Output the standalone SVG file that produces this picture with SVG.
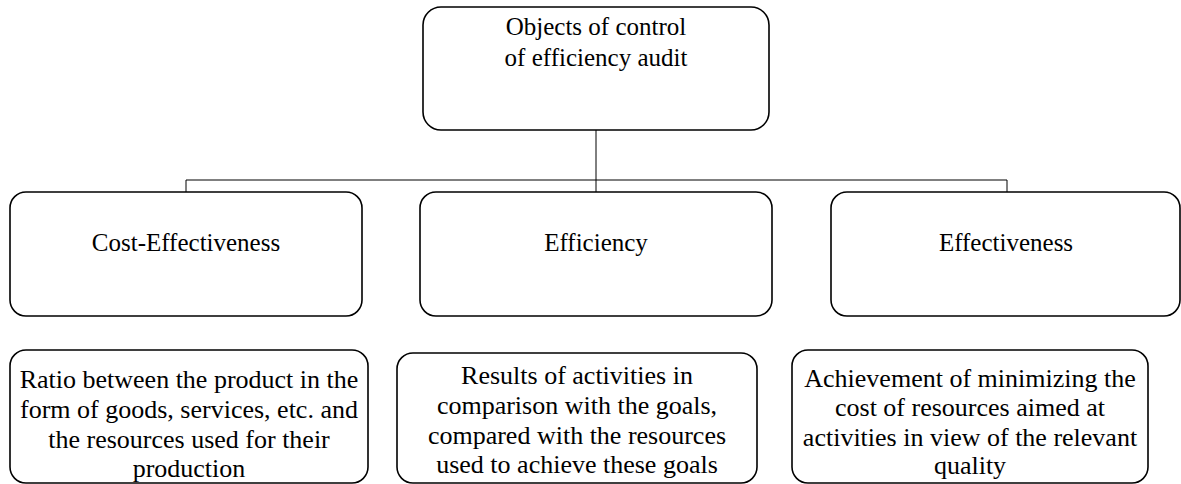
<svg xmlns="http://www.w3.org/2000/svg" width="1181" height="484" viewBox="0 0 1181 484" font-family="Liberation Serif, Times New Roman, Times, DejaVu Serif, serif">
<style>
.box{fill:#fff;stroke:#000;stroke-width:1.6}
.con{fill:none;stroke:#000;stroke-width:1}
.t,.b{fill:#000;text-anchor:middle}
.t{font-size:25px}
.b{font-size:26px}
</style>
<rect width="1181" height="484" fill="#fff"/>
<g id="connectors">
<path class="con" d="M596 130V192"/>
<path class="con" d="M186 192V180H1007V192"/>
</g>
<g id="root">
<rect class="box" x="423" y="7" width="346" height="123" rx="18"/>
<text class="t" x="596" y="35">Objects of control</text>
<text class="t" x="596" y="66">of efficiency audit</text>
</g>
<g id="cost-effectiveness">
<rect class="box" x="10" y="192" width="352" height="124" rx="16"/>
<text class="t" x="186" y="251">Cost-Effectiveness</text>
</g>
<g id="efficiency">
<rect class="box" x="420" y="192" width="352" height="124" rx="16"/>
<text class="t" x="596" y="251">Efficiency</text>
</g>
<g id="effectiveness">
<rect class="box" x="831" y="192" width="349" height="124" rx="16"/>
<text class="t" x="1006" y="251">Effectiveness</text>
</g>
<g id="desc-cost">
<rect class="box" x="10" y="350" width="358" height="133" rx="16"/>
<text class="b" x="189" y="388">Ratio between the product in the</text>
<text class="b" x="189" y="418">form of goods, services, etc. and</text>
<text class="b" x="189" y="448">the resources used for their</text>
<text class="b" x="189" y="477">production</text>
</g>
<g id="desc-efficiency">
<rect class="box" x="397" y="353" width="360" height="130" rx="16"/>
<text class="b" x="577" y="384">Results of activities in</text>
<text class="b" x="577" y="414">comparison with the goals,</text>
<text class="b" x="577" y="444">compared with the resources</text>
<text class="b" x="577" y="473">used to achieve these goals</text>
</g>
<g id="desc-effectiveness">
<rect class="box" x="792" y="350" width="356" height="133" rx="16"/>
<text class="b" x="970" y="387">Achievement of minimizing the</text>
<text class="b" x="970" y="416">cost of resources aimed at</text>
<text class="b" x="970" y="446">activities in view of the relevant</text>
<text class="b" x="970" y="474">quality</text>
</g>
</svg>
